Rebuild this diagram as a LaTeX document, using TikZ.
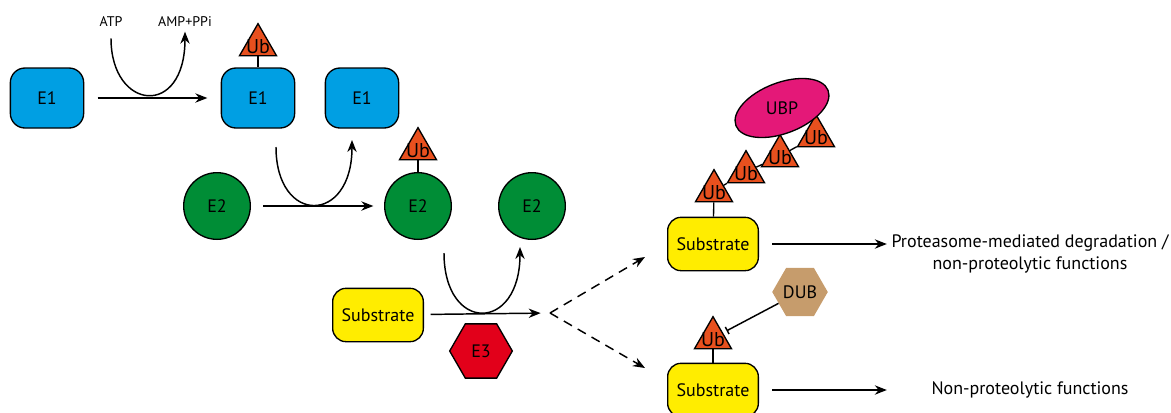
\documentclass[tikz,border=0pt]{standalone}
\usepackage{fontspec}
\setmainfont{PT Sans}
\usepackage{tikz}
\usetikzlibrary{calc,positioning,arrows.meta,shapes.geometric}
\definecolor{eblue}{RGB}{0,159,227}
\definecolor{egreen}{RGB}{0,141,54}
\definecolor{syellow}{RGB}{255,237,0}
\definecolor{ubor}{RGB}{232,80,30}
\definecolor{ered}{RGB}{226,0,26}
\definecolor{pmag}{RGB}{228,24,120}
\definecolor{dtan}{RGB}{198,156,108}
\tikzset{
  eone/.style={rectangle,rounded corners=11pt,draw=black,line width=1pt,fill=eblue,minimum width=55pt,minimum height=45pt},
  etwo/.style={circle,draw=black,line width=1pt,fill=egreen,minimum size=50pt,inner sep=0pt},
  subs/.style={rectangle,rounded corners=10pt,draw=black,line width=1pt,fill=syellow,minimum width=68pt,minimum height=40pt,inner sep=2pt},
  ubi/.style={regular polygon,regular polygon sides=3,draw=black,line width=1pt,fill=ubor,minimum size=32pt,inner sep=0pt,
    label={[font=\fontsize{15}{17}\selectfont,yshift=-1pt]center:Ub}},
  ethree/.style={regular polygon,regular polygon sides=6,draw=black,line width=1pt,fill=ered,minimum size=47pt,inner sep=0pt},
  dubhex/.style={regular polygon,regular polygon sides=6,fill=dtan,minimum size=40pt,inner sep=0pt},
  ubpell/.style={ellipse,draw=black,line width=1pt,fill=pmag,minimum width=74pt,minimum height=38pt,rotate=21},
  small/.style={font=\fontsize{10.5}{12}\selectfont},
  line/.style={draw,line width=1.1pt,-{Stealth[length=9pt,width=7pt]}},
  dline/.style={line,dash pattern=on 7pt off 5pt},
  inhib/.style={draw,line width=1.1pt,-{Bar[width=6pt]},shorten >=3pt},
}
\begin{document}
\begin{tikzpicture}[x=0.75pt,y=-0.75pt,font=\fontsize{13.5}{16.5}\selectfont]
  \useasboundingbox (0,0) rectangle (1171,412);

  %E1 activation
  \node[eone] (e1a) at (47,98) {E1};
  \node[eone] (e1b) at (258,98) {E1};
  \node[eone] (e1c) at (362,98) {E1};
  \node[ubi] (ub1) at (258,45) {};
  \node[small] (atp) at (111,22) {ATP};
  \node[small] (amp) at (185,22) {AMP+PPi};

  %E2 conjugation
  \node[etwo] (e2a) at (217,206) {E2};
  \node[etwo] (e2b) at (418,206) {E2};
  \node[etwo] (e2c) at (532,206) {E2};
  \node[ubi] (ub2) at (418,149) {};
  \coordinate (c2s) at (276,147);
  \coordinate (c2e) at (352,140);

  %E3 ligation
  \node[subs] (sub1) at (378,315) {Substrate};
  \node[ethree] (e3) at (481,351) {E3};
  \coordinate (c3s) at (444,253);
  \coordinate (c3e) at (520,247);
  \coordinate (fork) at (550,313);
  \coordinate (up) at (645,257);
  \coordinate (down) at (645,368);

  %poly-ubiquitin chain
  \node[subs] (sub2) at (713,244) {Substrate};
  \node[ubi] (uba) at (714,191) {};
  \node[ubi] (ubb) at (746,172) {};
  \node[ubi] (ubc) at (780,156) {};
  \node[ubi] (ubd) at (816,136) {};
  \node[ubpell] (ubp) at (782,108) {};
  \node (ubptext) at (ubp) {UBP};

  %mono-ubiquitin
  \node[subs] (sub3) at (713,390) {Substrate};
  \node[ubi] (ub5) at (713,338) {};
  \node[dubhex] (dub) at (800,292) {DUB};

  %outcomes
  \node[align=center] (deg) at (1030,254) {Proteasome-mediated degradation /\\non-proteolytic functions};
  \node (nonp) at (1030,390) {Non-proteolytic functions};

  \draw[line width=1pt] (ub1) -- (e1b);
  \draw[line width=1pt] (ub2) -- (e2b);
  \draw[line width=1pt] (uba) -- (sub2);
  \draw[line width=1pt] (uba) -- (ubb) -- (ubc) -- (ubd);
  \draw[line width=1pt] (ub5) -- (sub3);

  \draw[line,shorten <=10pt,shorten >=10pt] (e1a) -- (e1b);
  \draw[line,shorten <=5pt] (atp.south) .. controls +(0,79) and +(0,87) .. (amp.south);
  \draw[line] (c2s) .. controls +(0,78) and +(0,85) .. (c2e);
  \draw[line,shorten <=9pt,shorten >=8pt] (e2a) -- (e2b);
  \draw[line] (c3s) .. controls +(0,80) and +(0,86) .. (c3e);
  \draw[line,shorten <=5pt,shorten >=7pt] (sub1) -- (fork);
  \draw[dline] (fork) -- (up);
  \draw[dline] (fork) -- (down);
  \draw[inhib] (dub) -- (ub5);
  \draw[line,shorten <=10pt] (sub2) -- (sub2 -| deg.west);
  \draw[line,shorten <=10pt] (sub3) -- (sub3 -| deg.west);
\end{tikzpicture}
\end{document}
